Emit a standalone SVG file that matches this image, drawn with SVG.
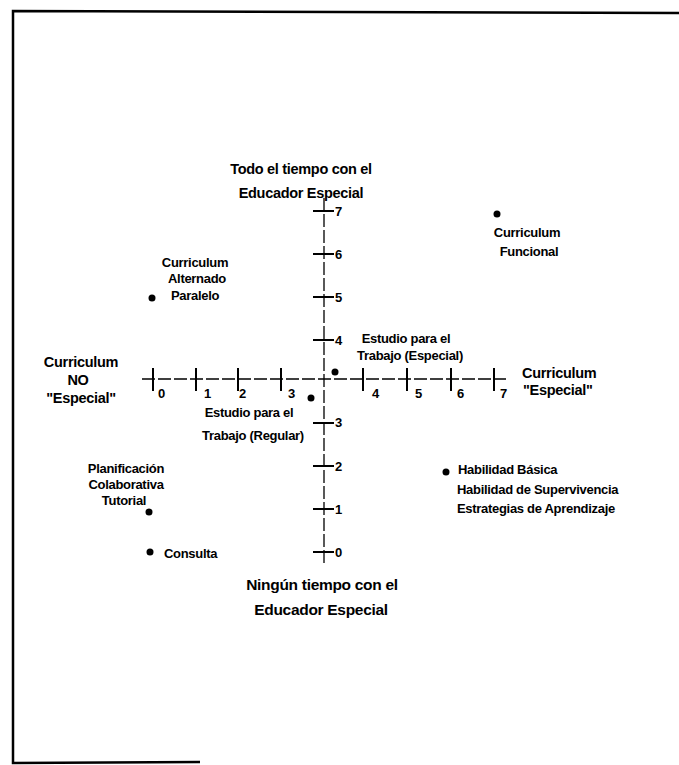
<svg xmlns="http://www.w3.org/2000/svg" width="679" height="765" viewBox="0 0 679 765">
<style>
text{font-family:"Liberation Sans",Arial,sans-serif;font-weight:bold;fill:#000;letter-spacing:-0.3px}
.lab{font-size:13px}
.big{font-size:14.5px}
.bot{font-size:15.5px}
.num{font-size:13px}
.axis{stroke:#000;stroke-width:1.3;fill:none;stroke-dasharray:13 3}
.tick{stroke:#000;stroke-width:2;fill:none}
.frame{stroke:#000;stroke-width:2.5;fill:none}
.dot{fill:#000}
</style>
<rect width="679" height="765" fill="#fff"/>
<path class="frame" d="M679,13 L13,11 L13,763 L200,762"/>

<g id="connectors">
  <line class="axis" x1="142" y1="379" x2="506" y2="379"/>
  <line class="axis" x1="324" y1="198" x2="324" y2="563"/>
</g>

<g id="x-ticks">
  <path class="tick" d="M153,368V391M196,368V391M238,368V391M281,368V391M363,368V391M407,368V391M451,368V391M494,368V391"/>
  <text class="num" x="158" y="398">0</text>
  <text class="num" x="204" y="398">1</text>
  <text class="num" x="239" y="398">2</text>
  <text class="num" x="288" y="398">3</text>
  <text class="num" x="372" y="398">4</text>
  <text class="num" x="415" y="398">5</text>
  <text class="num" x="457" y="398">6</text>
  <text class="num" x="500" y="398">7</text>
</g>

<g id="y-ticks">
  <path class="tick" d="M313,211H334M313,254H334M313,297H334M313,340H334M313,423H334M313,466H334M313,509H334M313,552H334"/>
  <text class="num" x="335" y="216">7</text>
  <text class="num" x="335" y="259">6</text>
  <text class="num" x="335" y="302">5</text>
  <text class="num" x="335" y="345">4</text>
  <text class="num" x="335" y="427">3</text>
  <text class="num" x="335" y="471">2</text>
  <text class="num" x="335" y="514">1</text>
  <text class="num" x="335" y="557">0</text>
</g>

<g id="top-label">
  <text class="big" x="301" y="174" text-anchor="middle">Todo el tiempo con el</text>
  <text class="big" x="301" y="198" text-anchor="middle">Educador Especial</text>
</g>
<g id="bottom-label">
  <text class="bot" x="322" y="590" text-anchor="middle">Ningún tiempo con el</text>
  <text class="bot" x="321" y="615" text-anchor="middle">Educador Especial</text>
</g>
<g id="left-label">
  <text class="big" x="81" y="367" text-anchor="middle">Curriculum</text>
  <text class="big" x="78" y="385" text-anchor="middle">NO</text>
  <text class="big" x="81" y="403" text-anchor="middle">"Especial"</text>
</g>
<g id="right-label">
  <text class="big" x="522" y="378">Curriculum</text>
  <text class="big" x="523" y="395">"Especial"</text>
</g>

<g id="curriculum-alternado">
  <circle class="dot" cx="152" cy="298" r="3.5"/>
  <text class="lab" x="195" y="267" text-anchor="middle">Curriculum</text>
  <text class="lab" x="197" y="283" text-anchor="middle">Alternado</text>
  <text class="lab" x="195" y="300" text-anchor="middle">Paralelo</text>
</g>
<g id="curriculum-funcional">
  <circle class="dot" cx="497" cy="214" r="3.5"/>
  <text class="lab" x="527" y="237" text-anchor="middle">Curriculum</text>
  <text class="lab" x="529" y="256" text-anchor="middle">Funcional</text>
</g>
<g id="estudio-especial">
  <circle class="dot" cx="335" cy="372" r="3.5"/>
  <text class="lab" x="406" y="343" text-anchor="middle">Estudio para el</text>
  <text class="lab" x="410" y="360" text-anchor="middle">Trabajo (Especial)</text>
</g>
<g id="estudio-regular">
  <circle class="dot" cx="311" cy="398" r="3.5"/>
  <text class="lab" x="249" y="417" text-anchor="middle">Estudio para el</text>
  <text class="lab" x="253" y="440" text-anchor="middle">Trabajo (Regular)</text>
</g>
<g id="planificacion">
  <circle class="dot" cx="149" cy="512" r="3.5"/>
  <text class="lab" x="126" y="473" text-anchor="middle">Planificación</text>
  <text class="lab" x="126" y="489" text-anchor="middle">Colaborativa</text>
  <text class="lab" x="124" y="505" text-anchor="middle">Tutorial</text>
</g>
<g id="consulta">
  <circle class="dot" cx="150" cy="552" r="3.5"/>
  <text class="lab" x="164" y="558">Consulta</text>
</g>
<g id="habilidad">
  <circle class="dot" cx="446" cy="472" r="3.5"/>
  <text class="lab" x="458" y="474">Habilidad Básica</text>
  <text class="lab" x="457" y="494">Habilidad de Supervivencia</text>
  <text class="lab" x="457" y="513">Estrategias de Aprendizaje</text>
</g>
</svg>
